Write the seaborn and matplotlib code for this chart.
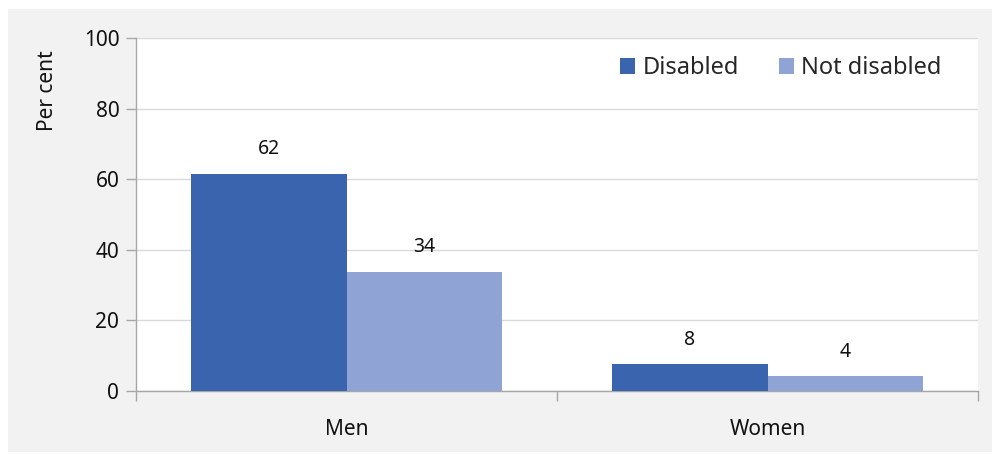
import pandas as pd
import numpy as np
import matplotlib
matplotlib.use("Agg")
import matplotlib.pyplot as plt
import seaborn as sns
from matplotlib.patches import Rectangle

groups = ["Men", "Women"]
series = ["Disabled", "Not disabled"]
disabled = [61.5, 7.6]
not_disabled = [33.7, 4.2]
colors = ["#3a64ad", "#8fa3d4"]

df = pd.DataFrame({
    "group": groups * 2,
    "series": [series[0]] * 2 + [series[1]] * 2,
    "value": disabled + not_disabled,
})

sns.set_style("white")
plt.rcParams["font.family"] = ["Noto Sans", "DejaVu Sans"]

fig = plt.figure(figsize=(9.95, 4.54), dpi=100, facecolor="white")
# grey panel behind the chart
fig.patches.append(Rectangle((8 / 995, 1 - 452 / 454), 984 / 995, 443 / 454,
                             transform=fig.transFigure, facecolor="#f2f2f2",
                             edgecolor="none", zorder=-10))
ax = fig.add_axes([136 / 995, 1 - 391 / 454, 842 / 995, 353 / 454])
ax.set_facecolor("white")

sns.barplot(data=df, x="group", y="value", hue="series", palette=colors,
            width=0.737, saturation=1, linewidth=0, ax=ax, zorder=3)

for cont in ax.containers:
    ax.bar_label(cont, labels=[f"{b.get_height():.0f}" for b in cont],
                 padding=10.5, fontsize=14, color="#111111")

ax.set_ylim(0, 100)
ax.set_xlim(-0.5, 1.5)
ax.set_yticks(np.arange(0, 101, 20))
ax.yaxis.grid(True, color="#d9d9d9", linewidth=1, zorder=0)
ax.set_axisbelow(True)
ax.tick_params(axis="y", length=7, color="#a6a6a6", width=1, labelsize=15,
               pad=5, left=True, labelcolor="#111111")
ax.set_xticks([0, 1])
ax.set_xticklabels(groups)
ax.tick_params(axis="x", length=0, labelsize=15, pad=20, labelcolor="#111111")
ax.set_xticks([-0.5, 0.5, 1.5], minor=True)
ax.tick_params(axis="x", which="minor", length=7, color="#a6a6a6", width=1,
               bottom=True, direction="out")
ax.set_xlabel("")
ax.set_ylabel("Per cent", fontsize=15, color="#111111")
ax.yaxis.set_label_coords(-0.093, 0.85)

for s in ["top", "right"]:
    ax.spines[s].set_visible(False)
for s in ["left", "bottom"]:
    ax.spines[s].set_color("#a6a6a6")
    ax.spines[s].set_linewidth(1)

ax.legend(title=None, loc="center right", bbox_to_anchor=(0.982, 0.915),
          ncol=2, frameon=False, fontsize=17, handlelength=0.65,
          handleheight=0.65, handletextpad=0.3, columnspacing=1.7)

fig.savefig("out.png", dpi=100, facecolor=fig.get_facecolor())
